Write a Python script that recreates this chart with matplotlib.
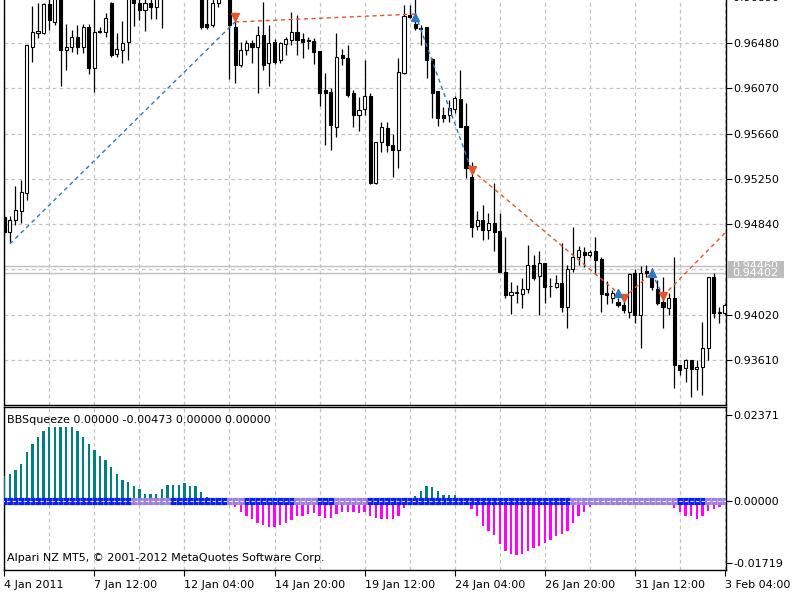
import matplotlib
matplotlib.use('Agg')
from matplotlib import pyplot as plt
from matplotlib.patches import Rectangle
import numpy as np

# H4 bars, index 0 = 4 Jan 2011 20:00
OPEN = [0.94905, 0.94769, 0.94878, 0.94959, 0.95122, 0.96444, 0.96570, 0.96570, 0.96833, 0.96670,
        0.96923, 0.96416, 0.96444, 0.96534, 0.96444, 0.96625, 0.96254, 0.96579, 0.96579, 0.96842,
        0.96380, 0.96416, 0.96489, 0.96896, 0.96842, 0.96778, 0.96842, 0.96806, 0.96941, 0.96960,
        0.97050, 0.97141, 0.97068, 0.97177, 0.97095, 0.96914, 0.96652, 0.96643, 0.96842, 0.96887,
        0.96960, 0.96625, 0.96281, 0.96416, 0.96480, 0.96444, 0.96552, 0.96299, 0.96489, 0.96326,
        0.96471, 0.96507, 0.96579, 0.96516, 0.96507, 0.96498, 0.96407, 0.96054, 0.96036, 0.95720,
        0.96371, 0.96344, 0.96027, 0.95828, 0.95883, 0.96000, 0.95213, 0.95584, 0.95711, 0.95557,
        0.95511, 0.96208, 0.96733, 0.96652, 0.96616, 0.96625, 0.96335, 0.96045, 0.95828, 0.95828,
        0.95883, 0.95973, 0.95729, 0.95267, 0.94824, 0.94878, 0.94787, 0.94851, 0.94778, 0.94407,
        0.94199, 0.94226, 0.94208, 0.94254, 0.94471, 0.94371, 0.94489, 0.94281, 0.94272, 0.94308,
        0.94091, 0.94435, 0.94543, 0.94588, 0.94561, 0.94597, 0.94525, 0.94217, 0.94172, 0.94136,
        0.94109, 0.94045, 0.94398, 0.94018, 0.94416, 0.94362, 0.94254, 0.94136, 0.94082, 0.94172,
        0.93566, 0.93539, 0.93611, 0.93530, 0.93548, 0.93720, 0.94362, 0.94036, 0.94036]
HIGH = [0.94932, 0.94914, 0.95186, 0.95240, 0.96462, 0.96815, 0.96842, 0.96842, 0.96896, 0.96905,
        0.96941, 0.96652, 0.96597, 0.96643, 0.96652, 0.96652, 0.96896, 0.96625, 0.96751, 0.96851,
        0.96570, 0.96679, 0.96905, 0.96923, 0.96905, 0.96914, 0.96914, 0.96923, 0.96978, 0.97122,
        0.97195, 0.97231, 0.97249, 0.97267, 0.97141, 0.96960, 0.96896, 0.96887, 0.96941, 0.97032,
        0.96996, 0.96733, 0.96489, 0.96507, 0.96507, 0.96634, 0.96851, 0.96643, 0.96516, 0.96489,
        0.96534, 0.96760, 0.96733, 0.96570, 0.96534, 0.96525, 0.96407, 0.96208, 0.96073, 0.96570,
        0.96426, 0.96462, 0.96054, 0.95991, 0.96326, 0.96027, 0.95584, 0.95765, 0.95765, 0.95656,
        0.96344, 0.96824, 0.96824, 0.96887, 0.96643, 0.96625, 0.96344, 0.96045, 0.95901, 0.95964,
        0.96000, 0.96235, 0.95937, 0.95403, 0.94959, 0.95014, 0.94941, 0.95213, 0.94941, 0.94724,
        0.94317, 0.94290, 0.94353, 0.94652, 0.94561, 0.94597, 0.94489, 0.94353, 0.94380, 0.94670,
        0.94471, 0.94815, 0.94643, 0.94634, 0.94606, 0.94724, 0.94543, 0.94326, 0.94244, 0.94172,
        0.94154, 0.94398, 0.94435, 0.94462, 0.94471, 0.94444, 0.94335, 0.94362, 0.94217, 0.94543,
        0.93566, 0.93620, 0.93611, 0.93611, 0.93955, 0.94362, 0.94398, 0.94091, 0.94127]
LOW = [0.94751, 0.94679, 0.94833, 0.94851, 0.95059, 0.96308, 0.96525, 0.96561, 0.96597, 0.96643,
       0.96091, 0.96235, 0.96398, 0.96380, 0.96389, 0.96199, 0.96036, 0.96570, 0.96534, 0.96353,
       0.96353, 0.96299, 0.96326, 0.96634, 0.96688, 0.96588, 0.96697, 0.96697, 0.96616, 0.96914,
       0.96996, 0.97032, 0.97014, 0.97050, 0.96887, 0.96607, 0.96607, 0.96625, 0.96806, 0.96878,
       0.96154, 0.96118, 0.96263, 0.96371, 0.96299, 0.96027, 0.96235, 0.96091, 0.96290, 0.96299,
       0.96371, 0.96462, 0.96371, 0.96344, 0.96426, 0.96290, 0.95910, 0.95557, 0.95511, 0.95629,
       0.96281, 0.95991, 0.95720, 0.95683, 0.95828, 0.95204, 0.95204, 0.95493, 0.95493, 0.95267,
       0.95349, 0.96199, 0.96706, 0.96597, 0.96462, 0.96163, 0.95801, 0.95729, 0.95765, 0.95765,
       0.95846, 0.95720, 0.95258, 0.94724, 0.94787, 0.94697, 0.94706, 0.94597, 0.94407, 0.94172,
       0.94027, 0.94127, 0.94082, 0.94217, 0.94335, 0.94018, 0.94127, 0.94181, 0.94263, 0.94045,
       0.93901, 0.94407, 0.94471, 0.94453, 0.94543, 0.94389, 0.94045, 0.94118, 0.94127, 0.94091,
       0.94036, 0.93991, 0.93946, 0.93720, 0.94362, 0.94244, 0.94109, 0.93901, 0.94018, 0.93358,
       0.93475, 0.93412, 0.93276, 0.93339, 0.93294, 0.93611, 0.93991, 0.93946, 0.94018]
CLOSE = [0.94769, 0.94878, 0.94968, 0.95131, 0.96462, 0.96579, 0.96588, 0.96833, 0.96688, 0.96887,
         0.96416, 0.96444, 0.96534, 0.96444, 0.96625, 0.96254, 0.96579, 0.96588, 0.96706, 0.96371,
         0.96426, 0.96480, 0.96887, 0.96842, 0.96778, 0.96842, 0.96806, 0.96887, 0.96896, 0.97050,
         0.97141, 0.97068, 0.97177, 0.97095, 0.96914, 0.96625, 0.96625, 0.96842, 0.96887, 0.96978,
         0.96643, 0.96281, 0.96416, 0.96480, 0.96444, 0.96552, 0.96281, 0.96480, 0.96308, 0.96480,
         0.96516, 0.96579, 0.96507, 0.96489, 0.96498, 0.96398, 0.96027, 0.96027, 0.95738, 0.96353,
         0.96344, 0.96009, 0.95828, 0.95873, 0.96000, 0.95213, 0.95584, 0.95720, 0.95557, 0.95511,
         0.96217, 0.96724, 0.96715, 0.96616, 0.96607, 0.96326, 0.96027, 0.95801, 0.95801, 0.95892,
         0.95982, 0.95720, 0.95349, 0.94815, 0.94878, 0.94787, 0.94851, 0.94769, 0.94407, 0.94199,
         0.94226, 0.94217, 0.94254, 0.94471, 0.94353, 0.94489, 0.94272, 0.94276, 0.94308, 0.94091,
         0.94435, 0.94543, 0.94606, 0.94561, 0.94588, 0.94516, 0.94208, 0.94199, 0.94217, 0.94109,
         0.94063, 0.94389, 0.94018, 0.94398, 0.94398, 0.94272, 0.94127, 0.94091, 0.94172, 0.93566,
         0.93520, 0.93611, 0.93530, 0.93548, 0.93720, 0.94362, 0.94036, 0.94045, 0.94109]

TIME_LABELS = ['4 Jan 2011', '7 Jan 12:00', '12 Jan 04:00', '14 Jan 20:00', '19 Jan 12:00',
               '24 Jan 04:00', '26 Jan 20:00', '31 Jan 12:00', '3 Feb 04:00']
TIME_LABEL_BARS = [0, 16, 32, 48, 64, 80, 96, 112, 128]

PRICE_TICKS = [0.93610, 0.94020, 0.94430, 0.94840, 0.95250, 0.95660, 0.96070, 0.96480]
HIDDEN_TICK = 0.94430  # sits under the bid/ask labels
TOP_PRICE_LABEL = 0.96890
BID = 0.94402
ASK = 0.94460

# swing line through the signal points (first and last vertex are off screen)
ZIGZAG_BARS = [1, 41, 73, 83, 109, 110, 115, 117, 130]
ZIGZAG_PRICES = [0.94661, 0.96670, 0.96742, 0.95330, 0.94217, 0.94172, 0.94398, 0.94190, 0.94864]
SELL_BARS = [41, 83, 110, 117]
SELL_PRICES = [0.96715, 0.95330, 0.94172, 0.94190]
BUY_BARS = [73, 109, 115]
BUY_PRICES = [0.96715, 0.94217, 0.94398]

SQUEEZE_HIST = [0.0068, 0.0074, 0.0086, 0.0101, 0.0134, 0.0157, 0.0175, 0.0193, 0.0203, 0.0203,
                0.0203, 0.0203, 0.0203, 0.0192, 0.0175, 0.0157, 0.0141, 0.0124, 0.0113, 0.0092,
                0.0074, 0.0058, 0.0051, 0.0040, 0.0032, 0.0020, 0.0020, 0.0020, 0.0032, 0.0043,
                0.0043, 0.0043, 0.0049, 0.0040, 0.0040, 0.0023, 0.0011, 0.0005, 0.0002, -0.0001,
                -0.0005, -0.0018, -0.0032, -0.0041, -0.0051, -0.0062, -0.0067, -0.0072, -0.0072, -0.0067,
                -0.0060, -0.0053, -0.0043, -0.0041, -0.0037, -0.0034, -0.0041, -0.0046, -0.0048, -0.0037,
                -0.0030, -0.0030, -0.0032, -0.0034, -0.0032, -0.0043, -0.0046, -0.0049, -0.0049, -0.0051,
                -0.0041, -0.0020, -0.0005, 0.0014, 0.0028, 0.0040, 0.0037, 0.0028, 0.0016, 0.0016,
                0.0016, 0.0003, -0.0004, -0.0023, -0.0043, -0.0069, -0.0083, -0.0095, -0.0120, -0.0138,
                -0.0147, -0.0150, -0.0147, -0.0138, -0.0131, -0.0124, -0.0115, -0.0108, -0.0098, -0.0092,
                -0.0083, -0.0060, -0.0043, -0.0032, -0.0018, -0.0008, -0.0004, -0.0002, 0.0001, 0.0002,
                0.0001, -0.0001, -0.0002, -0.0003, -0.0002, 0.0001, 0.0001, -0.0002, -0.0006, -0.0021,
                -0.0032, -0.0041, -0.0043, -0.0049, -0.0043, -0.0028, -0.0023, -0.0016, -0.0012]
# bars where the squeeze dots are drawn in the light colour
SQUEEZE_ON_RUNS = [(23, 29), (40, 42), (52, 55), (59, 64), (101, 119), (125, 128)]
IND_TICKS = [-0.01719, 0.0, 0.02371]
IND_TITLE = 'BBSqueeze 0.00000 -0.00473 0.00000 0.00000'
COPYRIGHT = 'Alpari NZ MT5, \u00a9 2001-2012 MetaQuotes Software Corp.'

GRID_COLOR = '#c4c4c4'
RED = '#e4552b'
BLUE = '#2f78c0'


def style_axes(ax):
    for side in ['left', 'right', 'bottom', 'top']:
        ax.spines[side].set_color('black')
        ax.spines[side].set_linewidth(1.0)
    ax.yaxis.tick_right()
    ax.tick_params(axis='y', direction='out', length=4, width=0.8, pad=1.5, labelsize=8, colors='black')
    ax.set_axisbelow(True)


def draw_price(ax):
    n = len(OPEN)
    x = np.arange(n)
    o = np.array(OPEN)
    h = np.array(HIGH)
    l = np.array(LOW)
    c = np.array(CLOSE)

    ax.vlines(x, l, h, color='black', lw=0.9, zorder=3)
    fills = ['white' if cc >= oo else 'black' for oo, cc in zip(o, c)]
    ax.bar(x, np.abs(c - o), bottom=np.minimum(o, c), width=0.55, color=fills,
           edgecolor='black', linewidth=0.8, zorder=4)

    # bid / ask lines
    ax.axhline(ASK, color='#c0c0c0', lw=1.0, zorder=2)
    ax.axhline(BID, color='#c0c0c0', lw=1.0, zorder=2)

    # swing line, each leg coloured after the signal it starts from
    for k in range(len(ZIGZAG_BARS) - 1):
        col = BLUE if k % 2 == 0 else RED
        ax.plot(ZIGZAG_BARS[k:k + 2], ZIGZAG_PRICES[k:k + 2], color=col, lw=1.0,
                ls=(0, (3, 2.5)), zorder=5)
    ax.plot(SELL_BARS, SELL_PRICES, 'v', color=RED, ms=6, zorder=6)
    ax.plot(BUY_BARS, BUY_PRICES, '^', color=BLUE, ms=6, zorder=6)

    ax.set_xlim(-0.04, 128.18)
    ax.set_ylim(0.93203, 0.96869)
    ax.set_yticks(PRICE_TICKS)
    ax.set_yticklabels(['' if p == HIDDEN_TICK else '%.5f' % p for p in PRICE_TICKS])
    ax.set_xticks(np.arange(0, 129, 8))
    ax.tick_params(axis='x', length=0, labelbottom=False)
    ax.grid(True, color=GRID_COLOR, ls=(0, (3, 2.5)), lw=0.9)
    ax.spines['top'].set_visible(False)

    ax.text(1.0, TOP_PRICE_LABEL, '  ' + '%.5f' % TOP_PRICE_LABEL, transform=ax.get_yaxis_transform(),
            ha='left', va='center', fontsize=8, clip_on=False)

    # price labels on the scale, bid drawn over ask
    tr = ax.get_yaxis_transform()
    z = 10
    for price in [ASK, BID]:
        ax.add_patch(Rectangle((1.001, price - 0.00050), 0.080, 0.00100, transform=tr,
                               facecolor='#bdbdbd', edgecolor='none', clip_on=False, zorder=z))
        ax.text(1.009, price, '%.5f' % price, transform=tr, ha='left', va='center',
                fontsize=8, color='white', clip_on=False, zorder=z + 1)
        z += 2


def draw_indicator(ax):
    n = len(SQUEEZE_HIST)
    x = np.arange(n)
    v = np.array(SQUEEZE_HIST)
    cols = ['#008080' if val >= 0 else '#ff00ff' for val in v]
    ax.bar(x, v, width=0.42, color=cols, zorder=3)

    squeeze_on = np.zeros(n, bool)
    for s, e in SQUEEZE_ON_RUNS:
        squeeze_on[s:e + 1] = True
    for i in range(n):
        col = '#9b80dc' if squeeze_on[i] else '#0a1ef0'
        ax.plot([i - 0.5, i + 0.5], [0, 0], color=col, lw=5.2, solid_capstyle='butt', zorder=4)
    ax.plot([-0.5, n - 0.5], [0, 0], color='white', lw=0.8, ls=(0, (3, 2)), alpha=0.85, zorder=5)

    ax.set_xlim(-0.04, 128.18)
    ax.set_ylim(-0.01903, 0.02575)
    ax.set_yticks(IND_TICKS)
    ax.set_yticklabels(['%.5f' % t for t in IND_TICKS])
    ax.set_xticks(TIME_LABEL_BARS)
    ax.set_xticklabels(TIME_LABELS)
    ax.set_xticks(np.arange(0, 129, 8), minor=True)
    ax.tick_params(axis='x', which='major', direction='out', length=4, width=0.8, pad=3, labelsize=8)
    ax.tick_params(axis='x', which='minor', length=0)
    for lbl in ax.get_xticklabels():
        lbl.set_horizontalalignment('left')
    ax.grid(True, axis='x', which='both', color=GRID_COLOR, ls=(0, (3, 2.5)), lw=0.9)

    ax.text(0.004, 0.955, IND_TITLE, transform=ax.transAxes, ha='left', va='top', fontsize=8)
    ax.text(0.004, 0.045, COPYRIGHT, transform=ax.transAxes, ha='left', va='bottom', fontsize=8)


def main():
    plt.rcParams['font.family'] = ['DejaVu Sans']
    fig = plt.figure(figsize=(8, 6), dpi=100)
    fig.patch.set_facecolor('white')
    ax_price = fig.add_axes([0.005, 0.325, 0.9025, 0.675])
    ax_ind = fig.add_axes([0.005, 0.05, 0.9025, 0.2712])
    style_axes(ax_price)
    style_axes(ax_ind)
    draw_price(ax_price)
    draw_indicator(ax_ind)
    fig.savefig('out.png', dpi=100)


if __name__ == '__main__':
    main()
